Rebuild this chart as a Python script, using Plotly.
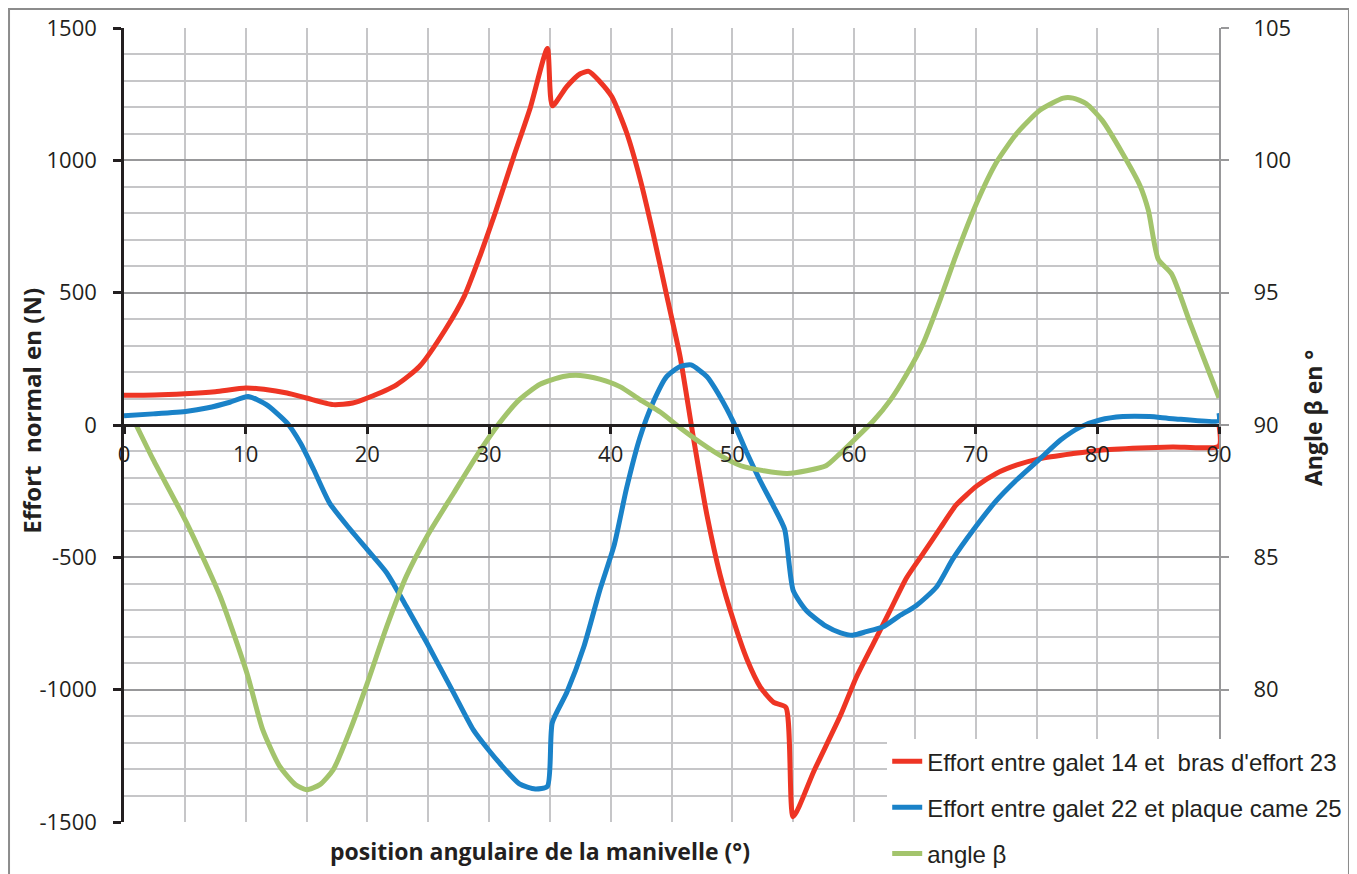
import plotly.graph_objects as go

# crank position (deg) and normal force (N) - galet 14 / bras d'effort 23
x_red = [0, 2.5, 5, 7.5, 10, 11.5, 13.4, 15, 17.2, 18.8, 20, 22.4, 24.3, 26.4, 28,
         29.3, 30.5, 32, 33.4, 34.8, 35.2, 36.4, 37.5, 38.2, 39.1, 40.1, 41.3, 42.4,
         43.5, 44.6, 45.7, 46.8, 47.9, 49, 50.1, 51.2, 52.3, 53.4, 54.4, 55, 56.7,
         58.9, 60.2, 61.6, 63, 64.3, 65.7, 67.1, 68.4, 70.1, 71.7, 73.4, 75.3, 78,
         80.2, 83.5, 86.2, 90, 90]
f_red = [112, 113, 118, 126, 140, 135, 121, 102, 77, 83, 102, 152, 222, 360, 490,
         644, 800, 1010, 1200, 1423, 1206, 1279, 1327, 1336, 1298, 1240, 1106, 933,
         721, 490, 260, -48, -337, -567, -740, -885, -990, -1048, -1067, -1480, -1308,
         -1096, -952, -825, -698, -579, -484, -389, -302, -230, -183, -151, -127, -108,
         -95, -87, -83, -79, 0]

# galet 22 / plaque came 25
x_blue = [0, 2.4, 5.2, 6.8, 8.7, 10.2, 11.7, 13.4, 14.5, 15.6, 16.9, 18.6, 20, 21.6,
          23.2, 24.9, 27.1, 28.7, 30, 30.9, 32.5, 33.8, 34.8, 35.2, 36.4, 37.8, 39.1,
          40.3, 41.3, 42.4, 43.5, 44.6, 45.7, 46.6, 47.9, 49, 50.1, 51.2, 52.3, 53.4,
          54.3, 55, 56.1, 57.7, 58.9, 59.9, 61, 62.4, 63.7, 65.1, 66.8, 68.1, 69.8,
          71.7, 73.4, 75.3, 77, 78.6, 80.2, 82.1, 84.3, 86.2, 90, 90]
f_blue = [35, 42, 52, 64, 86, 108, 77, 8, -68, -169, -295, -395, -471, -559,
          -685, -824, -1013, -1151, -1230, -1279, -1356, -1375, -1365, -1125, -1010, -837, -625,
          -452, -240, -48, 87, 183, 221, 227, 183, 106, 10, -106, -212, -308,
          -394, -625, -702, -760, -785, -794, -781, -762, -722, -683, -611, -508, -397,
          -286, -206, -127, -56, -8, 19, 32, 32, 24, 16, 45]

# angle beta (deg), right axis
x_green = [1, 2.4, 5.15, 7.9, 10.1, 11.4, 12.8, 14.1, 15, 16.1, 17.2, 18.6, 20, 21.6,
           23.2, 24.9, 27.1, 29.25, 30.9, 32.5, 34.2, 36.1, 37.5, 39.1, 40.8, 42.4,
           44.1, 45.7, 47.4, 49, 50.7, 52.6, 54.5, 56.1, 57.7, 58.8, 60.2, 61.6, 63,
           64.3, 65.7, 67.1, 68.4, 70.1, 71.7, 73.4, 75.3, 77.2, 78, 79.1, 80.4, 82.1,
           83.5, 84.2, 85, 86.1, 87.6, 89, 90]
beta = [90.0, 88.69, 86.3, 83.53, 80.63, 78.49, 77.1, 76.41, 76.22, 76.41, 76.98, 78.49,
        80.25, 82.39, 84.28, 85.79, 87.43, 89.02, 90.1, 90.96, 91.54, 91.83, 91.87, 91.73,
        91.44, 90.96, 90.48, 89.9, 89.33, 88.85, 88.46, 88.27, 88.17, 88.27, 88.46, 88.9,
        89.52, 90.16, 90.95, 91.9, 93.1, 94.76, 96.43, 98.41, 99.92, 101.03, 101.9, 102.35,
        102.35, 102.14, 101.51, 100.24, 99.05, 98.1, 96.27, 95.71, 93.89, 92.22, 91.03]

force_ticks = [-1500, -1000, -500, 0, 500, 1000, 1500]
force_labels = ['-1500', '-1000', '-500', '0', '500', '1000', '1500']
beta_ticks = [80, 85, 90, 95, 100, 105]

names = ["Effort entre galet 14 et \u00a0bras d'effort 23",
         "Effort entre galet 22 et plaque came 25",
         "angle \u03b2"]

tick_font = dict(family="Open Sans", size=22, color='#231f20')
title_font = dict(family='Open Sans', size=23, color='#231f20')

fig = go.Figure()

fig.add_trace(go.Scatter(x=x_red, y=f_red, mode='lines', name=names[0], legendgroup='a',
                         line=dict(width=5, color='#EE3524', shape='spline', smoothing=0.6)))
fig.add_trace(go.Scatter(x=x_blue, y=f_blue, mode='lines', name=names[1], legendgroup='b',
                         line=dict(width=5, color='#1A82C8', shape='spline', smoothing=0.6)))
fig.add_trace(go.Scatter(x=x_green, y=beta, mode='lines', name=names[2], legendgroup='c',
                         yaxis='y2',
                         line=dict(width=5, color='#A3C46C', shape='spline', smoothing=0.6)))

fig.update_layout(
    width=1349, height=866,
    margin=dict(l=116, r=138, t=20, b=52, autoexpand=False),
    plot_bgcolor='white', paper_bgcolor='white',
    xaxis=dict(range=[0, 90], anchor='free', position=0.5, dtick=10, tick0=0,
               showline=True, linecolor='#231f20', linewidth=2.5,
               ticks='outside', ticklen=7, tickwidth=2.5, tickcolor='#231f20',
               showgrid=True, gridcolor='#c6c6c8', gridwidth=1.5,
               minor=dict(dtick=5, showgrid=True, gridcolor='#c6c6c8', gridwidth=1.5),
               zeroline=False, tickfont=tick_font, ticklabelstandoff=2),
    yaxis=dict(range=[-1500, 1500], tickvals=force_ticks, ticktext=force_labels,
               showline=True, linecolor='#231f20', linewidth=2.5,
               ticks='outside', ticklen=8, tickwidth=2.5, tickcolor='#231f20',
               showgrid=True, gridcolor='#98989a', gridwidth=1.5,
               minor=dict(dtick=100, showgrid=True, gridcolor='#c6c6c8', gridwidth=1.5),
               zeroline=False, tickfont=tick_font, ticklabelstandoff=12),
    yaxis2=dict(range=[75, 105], overlaying='y', side='right', tickvals=beta_ticks,
                showline=True, linecolor='#98989a', linewidth=2,
                ticks='outside', ticklen=8, tickwidth=2, tickcolor='#98989a',
                showgrid=False, zeroline=False, tickfont=tick_font, ticklabelstandoff=20),
    legend=dict(x=0.697, y=0.1045, xanchor='left', yanchor='top', bgcolor='white',
                font=dict(family='Liberation Sans', size=24, color='#231f20'),
                tracegroupgap=12, traceorder='grouped'),
    annotations=[
        dict(text='<b>Effort \u00a0normal en (N)</b>', xref='paper', yref='paper',
             x=-0.084, y=0.518, xanchor='center', yanchor='middle', textangle=-90,
             showarrow=False, font=dict(family='Open Sans', size=24, color='#231f20')),
        dict(text='<b>Angle \u03b2 en \u00b0</b>', xref='paper', yref='paper',
             x=1.086, y=0.509, xanchor='center', yanchor='middle', textangle=-90,
             showarrow=False, font=title_font),
        dict(text='<b>position angulaire de la manivelle (\u00b0)</b>', xref='paper', yref='paper',
             x=0.38, y=-0.036, xanchor='center', yanchor='middle', showarrow=False,
             font=title_font),
    ],
    shapes=[dict(type='rect', xref='paper', yref='paper', x0=-0.105, x1=1.1187,
                 y0=-0.2, y1=1.0239, line=dict(color='#8c8c8c', width=2))],
)

fig.write_html("out.html")
